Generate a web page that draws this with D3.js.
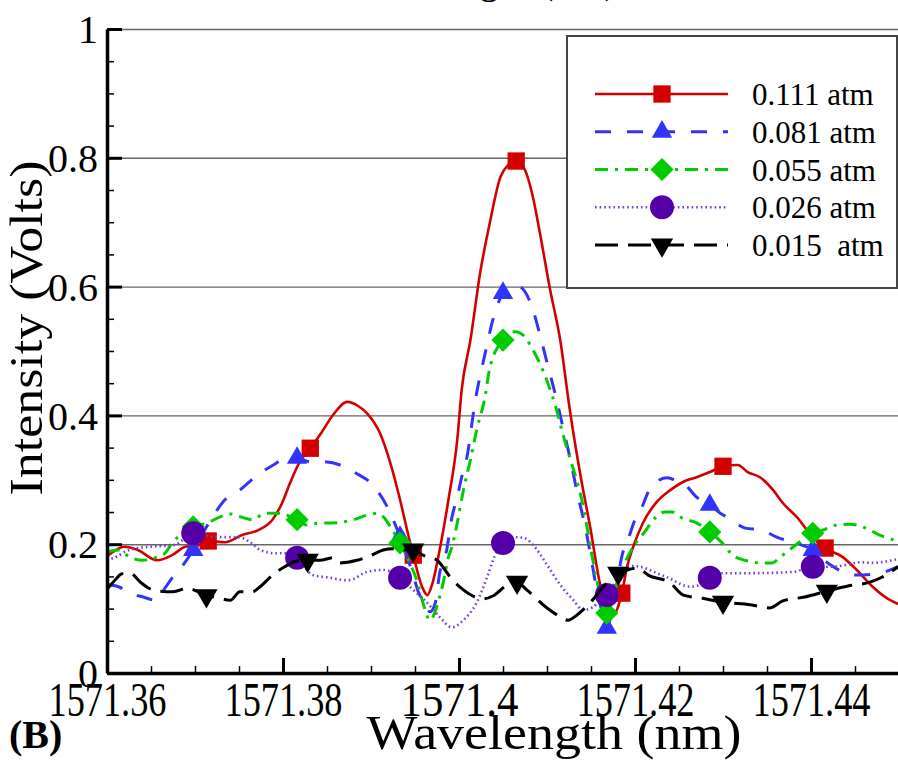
<!DOCTYPE html>
<html>
<head>
<meta charset="utf-8">
<script src="https://cdn.jsdelivr.net/npm/d3@7"></script>
<style>
  body { margin: 0; background: #fff; }
  svg { display: block; }
  text { font-family: "Liberation Serif", "Times New Roman", serif; fill: #000; }
</style>
</head>
<body>
<svg id="chart" width="898" height="760"></svg>
<script>
// ---- axis ticks and labels ----
const xTicks = [1571.36, 1571.38, 1571.40, 1571.42, 1571.44];
const xTickLabels = ["1571.36", "1571.38", "1571.4", "1571.42", "1571.44"];
const yTicks = [0, 0.2, 0.4, 0.6, 0.8, 1];
const yTickLabels = ["0", "0.2", "0.4", "0.6", "0.8", "1"];
const pressures = ["0.111 atm", "0.081 atm", "0.055 atm", "0.026 atm", "0.015  atm"];

// ---- measured spectra: [wavelength (nm), intensity (V)] ----
const p111 = [[1571.3601,0.182],[1571.3620,0.196],[1571.3635,0.191],[1571.3657,0.175],[1571.3674,0.183],[1571.3689,0.196],[1571.3708,0.199],[1571.3715,0.205],[1571.3734,0.203],[1571.3753,0.214],[1571.3772,0.222],[1571.3788,0.238],[1571.3799,0.264],[1571.3808,0.295],[1571.3819,0.328],[1571.3831,0.349],[1571.3844,0.374],[1571.3857,0.401],[1571.3873,0.421],[1571.3885,0.415],[1571.3895,0.404],[1571.3910,0.373],[1571.3922,0.326],[1571.3933,0.269],[1571.3941,0.222],[1571.3948,0.183],[1571.3958,0.134],[1571.3964,0.121],[1571.3970,0.140],[1571.3978,0.191],[1571.3988,0.269],[1571.3998,0.362],[1571.4003,0.439],[1571.4013,0.517],[1571.4024,0.621],[1571.4035,0.699],[1571.4047,0.770],[1571.4056,0.789],[1571.4065,0.795],[1571.4075,0.781],[1571.4083,0.745],[1571.4092,0.683],[1571.4103,0.599],[1571.4115,0.517],[1571.4126,0.408],[1571.4138,0.307],[1571.4149,0.227],[1571.4160,0.140],[1571.4169,0.098],[1571.4176,0.092],[1571.4185,0.124],[1571.4191,0.165],[1571.4198,0.196],[1571.4209,0.233],[1571.4225,0.266],[1571.4240,0.284],[1571.4255,0.297],[1571.4270,0.304],[1571.4285,0.312],[1571.4300,0.321],[1571.4317,0.323],[1571.4328,0.312],[1571.4342,0.304],[1571.4357,0.284],[1571.4368,0.264],[1571.4384,0.242],[1571.4402,0.211],[1571.4416,0.194],[1571.4436,0.180],[1571.4452,0.160],[1571.4470,0.134],[1571.4490,0.113],[1571.4499,0.107]];
const p081 = [[1571.3600,0.137],[1571.3613,0.134],[1571.3626,0.124],[1571.3641,0.118],[1571.3655,0.113],[1571.3666,0.132],[1571.3672,0.144],[1571.3685,0.165],[1571.3698,0.191],[1571.3711,0.222],[1571.3725,0.253],[1571.3734,0.269],[1571.3751,0.284],[1571.3768,0.304],[1571.3789,0.323],[1571.3805,0.334],[1571.3816,0.334],[1571.3831,0.328],[1571.3844,0.328],[1571.3865,0.323],[1571.3882,0.311],[1571.3902,0.292],[1571.3914,0.269],[1571.3922,0.248],[1571.3933,0.211],[1571.3941,0.180],[1571.3948,0.152],[1571.3953,0.129],[1571.3961,0.106],[1571.3967,0.095],[1571.3973,0.109],[1571.3978,0.155],[1571.3986,0.191],[1571.3992,0.242],[1571.3998,0.273],[1571.4003,0.304],[1571.4009,0.335],[1571.4018,0.419],[1571.4030,0.498],[1571.4039,0.551],[1571.4050,0.590],[1571.4058,0.599],[1571.4065,0.602],[1571.4075,0.592],[1571.4084,0.564],[1571.4092,0.525],[1571.4101,0.477],[1571.4111,0.424],[1571.4118,0.382],[1571.4126,0.335],[1571.4135,0.276],[1571.4143,0.230],[1571.4151,0.172],[1571.4158,0.118],[1571.4164,0.090],[1571.4168,0.070],[1571.4176,0.113],[1571.4186,0.186],[1571.4192,0.207],[1571.4200,0.238],[1571.4208,0.258],[1571.4217,0.287],[1571.4228,0.300],[1571.4236,0.303],[1571.4245,0.300],[1571.4255,0.295],[1571.4270,0.273],[1571.4285,0.261],[1571.4297,0.248],[1571.4306,0.241],[1571.4325,0.225],[1571.4344,0.222],[1571.4361,0.211],[1571.4380,0.203],[1571.4402,0.191],[1571.4422,0.168],[1571.4436,0.157],[1571.4452,0.152],[1571.4475,0.154],[1571.4490,0.160],[1571.4499,0.165]];
const p055 = [[1571.3600,0.188],[1571.3613,0.191],[1571.3626,0.180],[1571.3640,0.175],[1571.3655,0.179],[1571.3666,0.186],[1571.3674,0.202],[1571.3686,0.217],[1571.3698,0.227],[1571.3714,0.233],[1571.3728,0.242],[1571.3740,0.247],[1571.3753,0.242],[1571.3765,0.238],[1571.3780,0.248],[1571.3793,0.248],[1571.3805,0.245],[1571.3816,0.238],[1571.3827,0.230],[1571.3842,0.233],[1571.3857,0.233],[1571.3880,0.238],[1571.3895,0.245],[1571.3907,0.248],[1571.3915,0.241],[1571.3922,0.227],[1571.3933,0.202],[1571.3944,0.171],[1571.3952,0.144],[1571.3959,0.109],[1571.3967,0.082],[1571.3972,0.092],[1571.3976,0.109],[1571.3982,0.140],[1571.3988,0.180],[1571.3992,0.196],[1571.3998,0.233],[1571.4005,0.284],[1571.4013,0.331],[1571.4020,0.377],[1571.4030,0.432],[1571.4034,0.467],[1571.4039,0.492],[1571.4044,0.506],[1571.4050,0.517],[1571.4058,0.528],[1571.4064,0.530],[1571.4075,0.522],[1571.4081,0.509],[1571.4090,0.486],[1571.4101,0.450],[1571.4111,0.408],[1571.4118,0.371],[1571.4126,0.334],[1571.4134,0.298],[1571.4140,0.266],[1571.4145,0.230],[1571.4151,0.183],[1571.4157,0.141],[1571.4164,0.106],[1571.4168,0.093],[1571.4177,0.129],[1571.4185,0.160],[1571.4198,0.196],[1571.4211,0.219],[1571.4223,0.241],[1571.4234,0.250],[1571.4242,0.250],[1571.4253,0.241],[1571.4270,0.233],[1571.4285,0.219],[1571.4299,0.202],[1571.4311,0.183],[1571.4325,0.175],[1571.4342,0.171],[1571.4356,0.171],[1571.4365,0.180],[1571.4380,0.196],[1571.4402,0.217],[1571.4414,0.222],[1571.4430,0.230],[1571.4444,0.231],[1571.4464,0.224],[1571.4478,0.214],[1571.4493,0.207],[1571.4499,0.203]];
const p026 = [[1571.3600,0.175],[1571.3613,0.182],[1571.3620,0.188],[1571.3635,0.194],[1571.3649,0.196],[1571.3677,0.199],[1571.3698,0.217],[1571.3711,0.214],[1571.3723,0.211],[1571.3749,0.211],[1571.3763,0.203],[1571.3774,0.191],[1571.3791,0.186],[1571.3805,0.186],[1571.3816,0.179],[1571.3834,0.152],[1571.3853,0.148],[1571.3873,0.144],[1571.3880,0.146],[1571.3895,0.157],[1571.3914,0.160],[1571.3933,0.148],[1571.3948,0.129],[1571.3964,0.109],[1571.3978,0.087],[1571.3992,0.071],[1571.4005,0.082],[1571.4020,0.109],[1571.4032,0.149],[1571.4041,0.183],[1571.4050,0.202],[1571.4061,0.211],[1571.4073,0.210],[1571.4084,0.199],[1571.4100,0.168],[1571.4115,0.137],[1571.4130,0.113],[1571.4141,0.098],[1571.4152,0.102],[1571.4160,0.113],[1571.4168,0.121],[1571.4183,0.152],[1571.4197,0.166],[1571.4206,0.165],[1571.4225,0.155],[1571.4236,0.149],[1571.4263,0.134],[1571.4274,0.137],[1571.4285,0.148],[1571.4300,0.155],[1571.4331,0.155],[1571.4380,0.157],[1571.4402,0.165],[1571.4422,0.165],[1571.4441,0.168],[1571.4456,0.172],[1571.4470,0.171],[1571.4499,0.177]];
const p015 = [[1571.3600,0.130],[1571.3609,0.144],[1571.3617,0.154],[1571.3626,0.155],[1571.3638,0.141],[1571.3647,0.132],[1571.3660,0.127],[1571.3675,0.126],[1571.3692,0.132],[1571.3702,0.127],[1571.3713,0.120],[1571.3723,0.118],[1571.3740,0.113],[1571.3751,0.126],[1571.3765,0.126],[1571.3774,0.134],[1571.3788,0.152],[1571.3802,0.165],[1571.3816,0.174],[1571.3828,0.175],[1571.3842,0.175],[1571.3857,0.179],[1571.3865,0.171],[1571.3884,0.175],[1571.3899,0.182],[1571.3914,0.191],[1571.3925,0.193],[1571.3939,0.191],[1571.3948,0.191],[1571.3959,0.183],[1571.3975,0.175],[1571.3993,0.144],[1571.4005,0.129],[1571.4018,0.118],[1571.4027,0.115],[1571.4039,0.120],[1571.4055,0.137],[1571.4066,0.141],[1571.4077,0.129],[1571.4100,0.101],[1571.4113,0.089],[1571.4124,0.082],[1571.4133,0.089],[1571.4149,0.109],[1571.4168,0.140],[1571.4181,0.155],[1571.4191,0.160],[1571.4203,0.163],[1571.4215,0.152],[1571.4240,0.140],[1571.4255,0.121],[1571.4277,0.116],[1571.4300,0.110],[1571.4331,0.106],[1571.4353,0.101],[1571.4368,0.112],[1571.4393,0.118],[1571.4418,0.127],[1571.4442,0.135],[1571.4467,0.141],[1571.4481,0.149],[1571.4499,0.165]];

// wavelengths at which each curve carries a symbol
const mark111 = [1571.3715, 1571.3831, 1571.3948, 1571.4065, 1571.4185, 1571.4300, 1571.4416];
const mark081 = [1571.3698, 1571.3816, 1571.3933, 1571.4050, 1571.4168, 1571.4285, 1571.4402];
const mark055 = [1571.3698, 1571.3816, 1571.3933, 1571.4050, 1571.4168, 1571.4285, 1571.4402];
const mark026 = [1571.3698, 1571.3816, 1571.3933, 1571.4050, 1571.4168, 1571.4285, 1571.4402];
const mark015 = [1571.3713, 1571.3828, 1571.3948, 1571.4066, 1571.4181, 1571.4300, 1571.4418];

// ---- drawing styles per curve ----
const styles = [
  { data: p111, marks: mark111, stroke: "#d40000", width: 2.6, dash: null,        fill: "#d40000", sym: d3.symbolSquare,   size: 300, rot: 0 },
  { data: p081, marks: mark081, stroke: "#3333ff", width: 3,   dash: "16,16",     fill: "#3333ff", sym: d3.symbolTriangle, size: 180, rot: 0 },
  { data: p055, marks: mark055, stroke: "#00cc00", width: 3,   dash: "13,7,3,7",  fill: "#00cc00", sym: d3.symbolSquare,   size: 270, rot: 45 },
  { data: p026, marks: mark026, stroke: "#7a3fd6", width: 2.6, dash: "1.6,3",     fill: "#5300a8", sym: d3.symbolCircle,   size: 452, rot: 0 },
  { data: p015, marks: mark015, stroke: "#000000", width: 3,   dash: "23,10",     fill: "#000000", sym: d3.symbolTriangle, size: 215, rot: 180 }
];

const svg = d3.select("#chart");
const FONT = '"Liberation Serif", "Times New Roman", serif';

const x = d3.scaleLinear().domain([1571.36, 1571.45]).range([107, 899]);
const y = d3.scaleLinear().domain([0, 1]).range([673, 29]);

svg.append("rect").attr("width", 898).attr("height", 760).attr("fill", "#fff");

// caption of the panel above, cut by the page edge
svg.append("text").attr("x", 340).attr("y", -7)
  .attr("font-size", 40).text("Wavelength (nm)");

svg.append("defs").append("clipPath").attr("id", "plotClip")
  .append("rect").attr("x", 107).attr("y", 10).attr("width", 792).attr("height", 663);

// horizontal grid
const grid = svg.append("g").attr("transform", "translate(107,0)")
  .call(d3.axisLeft(y).tickValues([0.2, 0.4, 0.6, 0.8, 1]).tickSize(-792).tickFormat(""));
grid.select(".domain").remove();
grid.selectAll("line").attr("stroke", "#666").attr("stroke-width", 1.4);

// curves and symbols
const line = d3.line().x(d => x(d[0])).y(d => y(d[1])).curve(d3.curveMonotoneX);
const plot = svg.append("g").attr("clip-path", "url(#plotClip)");

styles.forEach(s => {
  plot.append("path").datum(s.data)
    .attr("d", line)
    .attr("fill", "none")
    .attr("stroke", s.stroke)
    .attr("stroke-width", s.width)
    .attr("stroke-dasharray", s.dash)
    .attr("stroke-linejoin", "round");
  const pts = s.data.filter(d => s.marks.some(m => Math.abs(m - d[0]) < 1e-6));
  plot.selectAll(null).data(pts).enter().append("path")
    .attr("d", d3.symbol().type(s.sym).size(s.size))
    .attr("transform", d => `translate(${x(d[0])},${y(d[1])}) rotate(${s.rot})`)
    .attr("fill", s.fill);
});

// y axis: major ticks with labels, then minor ticks
const yAxis = svg.append("g").attr("transform", "translate(107,0)")
  .call(d3.axisLeft(y).tickValues(yTicks).tickSize(-15).tickSizeOuter(0).tickPadding(9)
    .tickFormat((d, i) => yTickLabels[i]));
yAxis.attr("font-family", FONT).attr("font-size", 40);
yAxis.select(".domain").attr("stroke", "#000").attr("stroke-width", 3.5);
yAxis.selectAll(".tick line").attr("stroke-width", 3);
yAxis.selectAll(".tick text").attr("dy", "0.34em");

const yMinor = svg.append("g").attr("transform", "translate(107,0)")
  .call(d3.axisLeft(y).tickValues(d3.range(0, 1.0001, 0.05)).tickSize(-7).tickFormat(""));
yMinor.select(".domain").remove();
yMinor.selectAll("line").attr("stroke-width", 1.5);

// x axis: major ticks with labels, then minor ticks
const xAxis = svg.append("g").attr("transform", "translate(0,673)")
  .call(d3.axisBottom(x).tickValues(xTicks).tickSize(-15).tickSizeOuter(0).tickPadding(9)
    .tickFormat((d, i) => xTickLabels[i]));
xAxis.attr("font-family", FONT).attr("font-size", 48);
xAxis.select(".domain").attr("stroke", "#000").attr("stroke-width", 3.5);
xAxis.selectAll(".tick line").attr("stroke-width", 3);
xAxis.selectAll(".tick text").attr("textLength", 118).attr("lengthAdjust", "spacingAndGlyphs");

const xMinor = svg.append("g").attr("transform", "translate(0,673)")
  .call(d3.axisBottom(x).tickValues(d3.range(0, 19).map(i => 1571.36 + i * 0.005)).tickSize(-7).tickFormat(""));
xMinor.select(".domain").remove();
xMinor.selectAll("line").attr("stroke-width", 1.5);

// axis titles and panel tag
svg.append("text").attr("x", 554).attr("y", 749).attr("text-anchor", "middle")
  .attr("font-size", 49).attr("textLength", 375).attr("lengthAdjust", "spacingAndGlyphs")
  .text("Wavelength (nm)");
svg.append("text").attr("transform", "translate(42,328) rotate(-90)").attr("text-anchor", "middle")
  .attr("font-size", 46).attr("textLength", 335).attr("lengthAdjust", "spacingAndGlyphs")
  .text("Intensity (Volts)");
svg.append("text").attr("x", 9).attr("y", 748).attr("font-size", 40).attr("font-weight", "bold").text("(B)");

// legend
const legend = svg.append("g");
legend.append("rect").attr("x", 567).attr("y", 36).attr("width", 330).attr("height", 252)
  .attr("fill", "#fff").attr("stroke", "#444").attr("stroke-width", 2);
styles.forEach((s, i) => {
  const cy = 94 + i * 37.75;
  legend.append("line").attr("x1", 595).attr("x2", 728).attr("y1", cy).attr("y2", cy)
    .attr("stroke", s.stroke).attr("stroke-width", s.width).attr("stroke-dasharray", s.dash);
  legend.append("path").attr("d", d3.symbol().type(s.sym).size(s.size))
    .attr("transform", `translate(662,${cy}) rotate(${s.rot})`).attr("fill", s.fill);
  legend.append("text").attr("x", 752).attr("y", cy + 11).attr("font-size", 31)
    .style("white-space", "pre").text(pressures[i]);
});
</script>
</body>
</html>
